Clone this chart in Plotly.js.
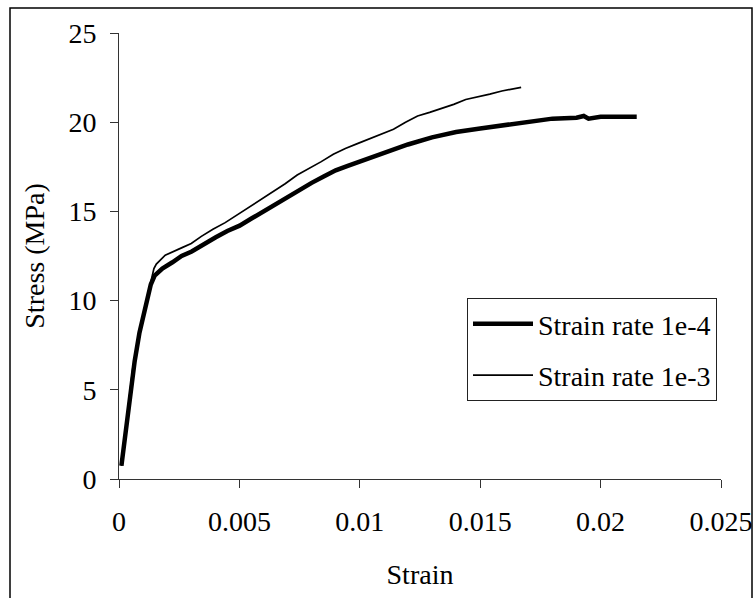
<!DOCTYPE html>
<html>
<head>
<meta charset="utf-8">
<script src="https://cdn.plot.ly/plotly-3.0.1.min.js"></script>
<style>html,body{margin:0;padding:0;background:#fff;}#chart{width:753px;height:598px;}</style>
</head>
<body>
<div id="chart"></div>
<script>
const seriesNames = ["Strain rate 1e-4", "Strain rate 1e-3"];

const strain1e4 = [0.0001, 0.0003, 0.00049, 0.00058, 0.00065, 0.00085, 0.001, 0.00116, 0.00132, 0.00148, 0.0018, 0.00222, 0.0026, 0.00302, 0.0035, 0.00402, 0.0045, 0.00501, 0.0055, 0.00601, 0.0065, 0.007, 0.0075, 0.008, 0.0085, 0.009, 0.0095, 0.010, 0.011, 0.012, 0.013, 0.014, 0.015, 0.016, 0.017, 0.018, 0.019, 0.0193, 0.0195, 0.020, 0.021, 0.0215];
const stress1e4 = [0.74, 3.0, 5.0, 6.3, 6.6, 8.2, 9.1, 10.0, 10.9, 11.4, 11.8, 12.15, 12.5, 12.75, 13.1, 13.55, 13.9, 14.2, 14.6, 15.0, 15.4, 15.85, 16.2, 16.6, 16.95, 17.3, 17.55, 17.8, 18.3, 18.75, 19.15, 19.45, 19.65, 19.85, 20.05, 20.2, 20.25, 20.35, 20.2, 20.3, 20.3, 20.3];

const strain1e3 = [0.0001, 0.0003, 0.00049, 0.00058, 0.00065, 0.00085, 0.001, 0.00116, 0.00132, 0.00145, 0.00155, 0.00192, 0.00262, 0.003, 0.00342, 0.0039, 0.00441, 0.0049, 0.00541, 0.0059, 0.00641, 0.0069, 0.0074, 0.0079, 0.0084, 0.0089, 0.0094, 0.0099, 0.0104, 0.0109, 0.0114, 0.0119, 0.0124, 0.0129, 0.0134, 0.0139, 0.0144, 0.0149, 0.0154, 0.0159, 0.0164, 0.0167];
const stress1e3 = [0.74, 3.0, 5.0, 6.3, 6.6, 8.2, 9.2, 10.1, 11.1, 11.8, 12.05, 12.55, 12.97, 13.2, 13.6, 14.0, 14.37, 14.8, 15.22, 15.65, 16.08, 16.55, 17.04, 17.4, 17.79, 18.2, 18.53, 18.8, 19.07, 19.35, 19.6, 20.0, 20.35, 20.55, 20.77, 21.0, 21.27, 21.4, 21.57, 21.75, 21.9, 21.95];

const xTickVals = [0, 0.005, 0.01, 0.015, 0.02, 0.025];
const xTickText = ["0", "0.005", "0.01", "0.015", "0.02", "0.025"];
const yTickVals = [0, 5, 10, 15, 20, 25];
const yTickText = ["0", "5", "10", "15", "20", "25"];

const FONT = "Liberation Serif, Times New Roman, serif";
const FS = 28;

const traces = [
  {x: strain1e4, y: stress1e4, name: seriesNames[0], type: "scatter", mode: "lines",
   line: {color: "#000", width: 4.5}, legendgroup: "a"},
  {x: strain1e3, y: stress1e3, name: seriesNames[1], type: "scatter", mode: "lines",
   line: {color: "#000", width: 1.7}, legendgroup: "b"}
];

const L = 119, R = 32, T = 33, B = 119, W = 753, H = 598;
const pw = W - L - R, ph = H - T - B;
function px(v) { return (v - L) / pw; }
function py(v) { return (H - B - v) / ph; }

const layout = {
  width: W, height: H,
  margin: {l: L, r: R, t: T, b: B},
  paper_bgcolor: "#fff", plot_bgcolor: "#fff",
  font: {family: FONT, size: FS, color: "#000"},
  showlegend: true,
  legend: {
    x: px(467), y: py(298), xanchor: "left", yanchor: "top",
    bgcolor: "#fff", bordercolor: "#222", borderwidth: 1,
    font: {family: FONT, size: FS, color: "#000"},
    tracegroupgap: 12, traceorder: "grouped", itemwidth: 60
  },
  xaxis: {
    range: [0, 0.025], tickvals: xTickVals, ticktext: xTickText,
    showgrid: false, zeroline: false, showline: true, linecolor: "#333", linewidth: 1,
    ticks: "outside", ticklen: 8, tickcolor: "#333", tickwidth: 1, ticklabelstandoff: 9,
    tickfont: {family: FONT, size: FS, color: "#000"},
    title: {text: "Strain", font: {family: FONT, size: FS, color: "#000"}, standoff: 28},
    fixedrange: true
  },
  yaxis: {
    range: [0, 25], tickvals: yTickVals, ticktext: yTickText,
    showgrid: false, zeroline: false, showline: true, linecolor: "#333", linewidth: 1,
    ticks: "outside", ticklen: 8, tickcolor: "#333", tickwidth: 1, ticklabelstandoff: 8,
    tickfont: {family: FONT, size: FS, color: "#000"},
    title: {text: "Stress (MPa)", font: {family: FONT, size: FS, color: "#000"}, standoff: 15},
    fixedrange: true
  },
  shapes: [
    {type: "rect", xref: "paper", yref: "paper",
     x0: px(10), x1: px(752), y0: py(620), y1: py(8),
     line: {color: "#000", width: 1.5}, fillcolor: "rgba(0,0,0,0)", layer: "below"}
  ]
};

Plotly.newPlot("chart", traces, layout, {displayModeBar: false, staticPlot: true});
</script>
</body>
</html>
